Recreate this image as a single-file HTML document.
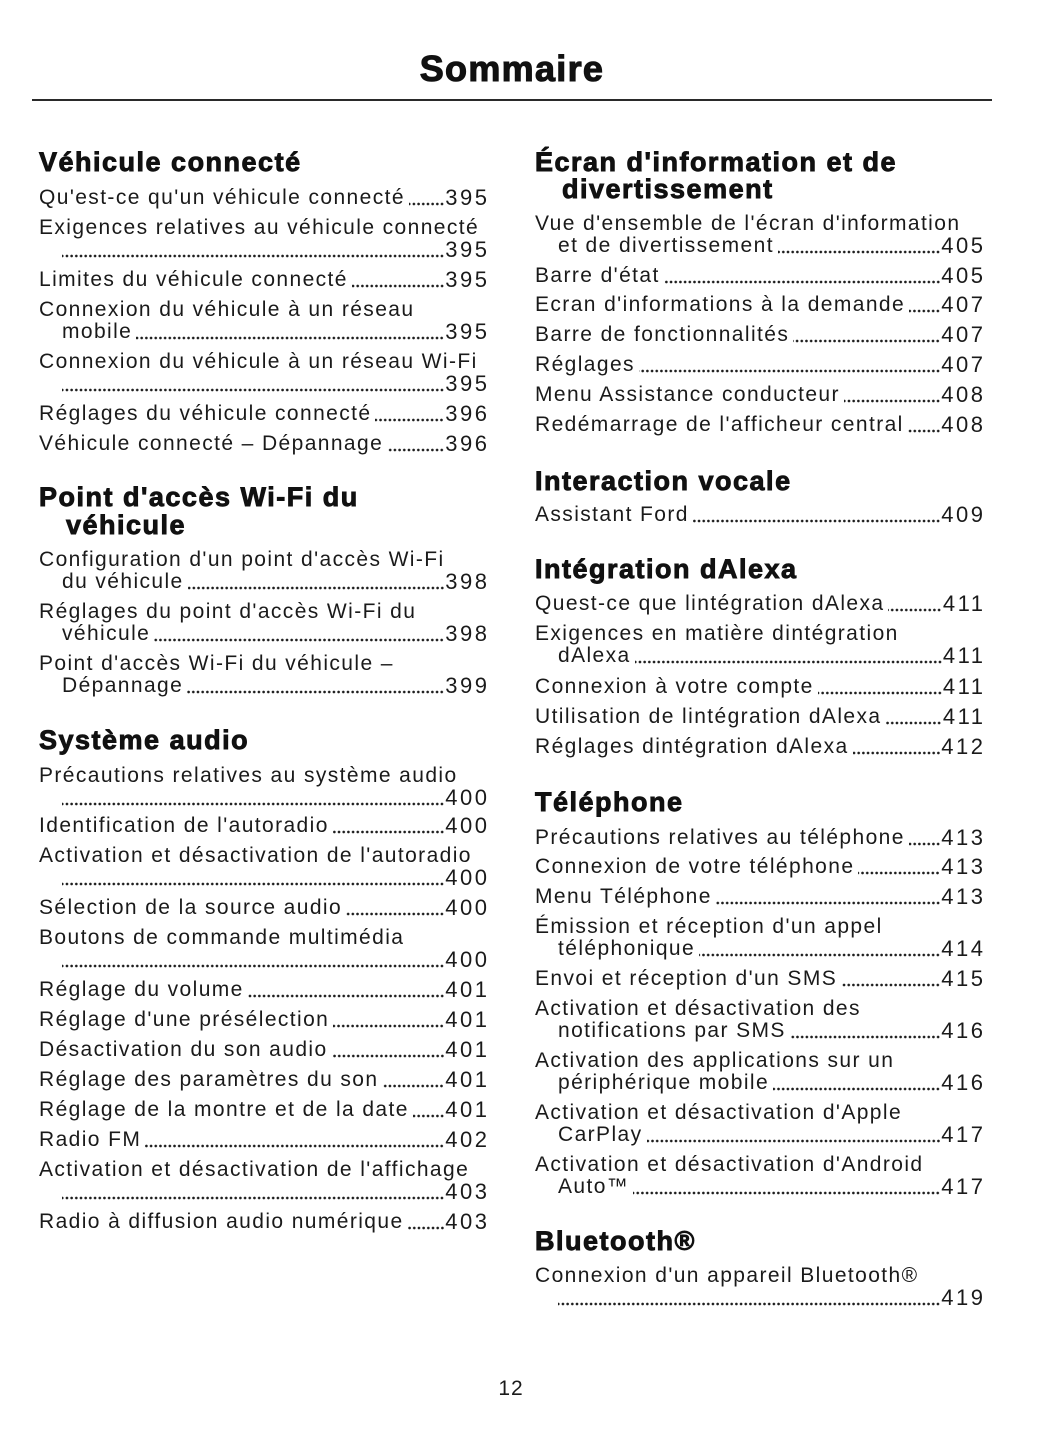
<!DOCTYPE html>
<html lang="fr">
<head>
<meta charset="utf-8">
<style>
  html, body { margin:0; padding:0; background:#fff; }
  body { width:1055px; height:1448px; position:relative; overflow:hidden;
         font-family:"Liberation Sans", "DejaVu Sans", sans-serif; color:#1a1a1a; }
  .title { position:absolute; left:0; width:1024px; top:48.5px; height:40px; line-height:40px;
           font-size:36px; font-weight:bold; text-align:center; letter-spacing:1.3px; color:#111;
           -webkit-text-stroke:1.1px #111; }
  .rule { position:absolute; left:32px; width:960px; top:99px; height:1.6px; background:#2a2a2a; }
  .h { position:absolute; height:30px; line-height:30px; font-size:27px; font-weight:bold;
       letter-spacing:1.5px; white-space:nowrap; color:#111; -webkit-text-stroke:0.9px #111; }
  .e { position:absolute; height:22px; line-height:22px; font-size:21px; letter-spacing:1.4px;
       white-space:nowrap; display:flex; }
  .e .t { flex:none; }
  .e .d { flex:1 1 auto; margin-left:4px; margin-right:1px;
          background-image:radial-gradient(circle at 2.35px 17px, #1e1e1e 1.1px, rgba(255,255,255,0) 1.55px);
          background-size:4.7px 22px; background-repeat:repeat-x; background-position:right top; }
  .e .d0 { margin-left:0; }
  .e .n { flex:none; font-size:22px; letter-spacing:2.5px; margin-right:-2.5px; }
  .L { left:39px; width:448px; }
  .Li { left:62px; width:425px; }
  .R { left:535px; width:448px; }
  .Ri { left:558px; width:425px; }
  .hL { left:39px; } .hLi { left:66px; }
  .hR { left:535px; } .hRi { left:562px; }
  .pg { position:absolute; left:461px; width:100px; top:1377.7px; height:22px; line-height:22px;
        font-size:21px; text-align:center; letter-spacing:1px; }
</style>
</head>
<body>
<div class="title">Sommaire</div>
<div class="rule"></div>

<!-- LEFT COLUMN -->
<div class="h hL" style="top:146.6px">Véhicule connecté</div>
<div class="e L" style="top:187.2px"><span class="t">Qu'est-ce qu'un véhicule connecté</span><span class="d"></span><span class="n">395</span></div>
<div class="e L" style="top:217.2px"><span class="t">Exigences relatives au véhicule connecté</span></div>
<div class="e Li" style="top:239.2px"><span class="d d0"></span><span class="n">395</span></div>
<div class="e L" style="top:268.7px"><span class="t">Limites du véhicule connecté</span><span class="d"></span><span class="n">395</span></div>
<div class="e L" style="top:298.7px"><span class="t">Connexion du véhicule à un réseau</span></div>
<div class="e Li" style="top:320.7px"><span class="t">mobile</span><span class="d"></span><span class="n">395</span></div>
<div class="e L" style="top:350.7px"><span class="t">Connexion du véhicule à un réseau Wi-Fi</span></div>
<div class="e Li" style="top:372.7px"><span class="d d0"></span><span class="n">395</span></div>
<div class="e L" style="top:402.7px"><span class="t">Réglages du véhicule connecté</span><span class="d"></span><span class="n">396</span></div>
<div class="e L" style="top:432.7px"><span class="t">Véhicule connecté – Dépannage</span><span class="d"></span><span class="n">396</span></div>

<div class="h hL" style="top:481.6px">Point d'accès Wi-Fi du</div>
<div class="h hLi" style="top:509.6px">véhicule</div>
<div class="e L" style="top:548.7px"><span class="t">Configuration d'un point d'accès Wi-Fi</span></div>
<div class="e Li" style="top:570.7px"><span class="t">du véhicule</span><span class="d"></span><span class="n">398</span></div>
<div class="e L" style="top:600.7px"><span class="t">Réglages du point d'accès Wi-Fi du</span></div>
<div class="e Li" style="top:622.7px"><span class="t">véhicule</span><span class="d"></span><span class="n">398</span></div>
<div class="e L" style="top:652.7px"><span class="t">Point d'accès Wi-Fi du véhicule –</span></div>
<div class="e Li" style="top:674.7px"><span class="t">Dépannage</span><span class="d"></span><span class="n">399</span></div>

<div class="h hL" style="top:724.9px">Système audio</div>
<div class="e L" style="top:765.2px"><span class="t">Précautions relatives au système audio</span></div>
<div class="e Li" style="top:787.2px"><span class="d d0"></span><span class="n">400</span></div>
<div class="e L" style="top:815.2px"><span class="t">Identification de l'autoradio</span><span class="d"></span><span class="n">400</span></div>
<div class="e L" style="top:845.2px"><span class="t">Activation et désactivation de l'autoradio</span></div>
<div class="e Li" style="top:867.2px"><span class="d d0"></span><span class="n">400</span></div>
<div class="e L" style="top:897.2px"><span class="t">Sélection de la source audio</span><span class="d"></span><span class="n">400</span></div>
<div class="e L" style="top:927.2px"><span class="t">Boutons de commande multimédia</span></div>
<div class="e Li" style="top:949.2px"><span class="d d0"></span><span class="n">400</span></div>
<div class="e L" style="top:979.2px"><span class="t">Réglage du volume</span><span class="d"></span><span class="n">401</span></div>
<div class="e L" style="top:1009.2px"><span class="t">Réglage d'une présélection</span><span class="d"></span><span class="n">401</span></div>
<div class="e L" style="top:1039.2px"><span class="t">Désactivation du son audio</span><span class="d"></span><span class="n">401</span></div>
<div class="e L" style="top:1069.2px"><span class="t">Réglage des paramètres du son</span><span class="d"></span><span class="n">401</span></div>
<div class="e L" style="top:1099.2px"><span class="t">Réglage de la montre et de la date</span><span class="d"></span><span class="n">401</span></div>
<div class="e L" style="top:1129.2px"><span class="t">Radio FM</span><span class="d"></span><span class="n">402</span></div>
<div class="e L" style="top:1159.2px"><span class="t">Activation et désactivation de l'affichage</span></div>
<div class="e Li" style="top:1181.2px"><span class="d d0"></span><span class="n">403</span></div>
<div class="e L" style="top:1211.2px"><span class="t">Radio à diffusion audio numérique</span><span class="d"></span><span class="n">403</span></div>

<!-- RIGHT COLUMN -->
<div class="h hR" style="top:146.6px">Écran d'information et de</div>
<div class="h hRi" style="top:174.1px">divertissement</div>
<div class="e R" style="top:212.7px"><span class="t">Vue d'ensemble de l'écran d'information</span></div>
<div class="e Ri" style="top:234.7px"><span class="t">et de divertissement</span><span class="d"></span><span class="n">405</span></div>
<div class="e R" style="top:264.7px"><span class="t">Barre d'état</span><span class="d"></span><span class="n">405</span></div>
<div class="e R" style="top:294.2px"><span class="t">Ecran d'informations à la demande</span><span class="d"></span><span class="n">407</span></div>
<div class="e R" style="top:324.2px"><span class="t">Barre de fonctionnalités</span><span class="d"></span><span class="n">407</span></div>
<div class="e R" style="top:354.2px"><span class="t">Réglages</span><span class="d"></span><span class="n">407</span></div>
<div class="e R" style="top:384.2px"><span class="t">Menu Assistance conducteur</span><span class="d"></span><span class="n">408</span></div>
<div class="e R" style="top:413.7px"><span class="t">Redémarrage de l'afficheur central</span><span class="d"></span><span class="n">408</span></div>

<div class="h hR" style="top:465.6px">Interaction vocale</div>
<div class="e R" style="top:504.2px"><span class="t">Assistant Ford</span><span class="d"></span><span class="n">409</span></div>

<div class="h hR" style="top:554.1px">Intégration dAlexa</div>
<div class="e R" style="top:593.2px"><span class="t">Quest-ce que lintégration dAlexa</span><span class="d"></span><span class="n">411</span></div>
<div class="e R" style="top:623.2px"><span class="t">Exigences en matière dintégration</span></div>
<div class="e Ri" style="top:645.2px"><span class="t">dAlexa</span><span class="d"></span><span class="n">411</span></div>
<div class="e R" style="top:675.7px"><span class="t">Connexion à votre compte</span><span class="d"></span><span class="n">411</span></div>
<div class="e R" style="top:705.7px"><span class="t">Utilisation de lintégration dAlexa</span><span class="d"></span><span class="n">411</span></div>
<div class="e R" style="top:735.7px"><span class="t">Réglages dintégration dAlexa</span><span class="d"></span><span class="n">412</span></div>

<div class="h hR" style="top:787.1px">Téléphone</div>
<div class="e R" style="top:826.7px"><span class="t">Précautions relatives au téléphone</span><span class="d"></span><span class="n">413</span></div>
<div class="e R" style="top:856.2px"><span class="t">Connexion de votre téléphone</span><span class="d"></span><span class="n">413</span></div>
<div class="e R" style="top:886.2px"><span class="t">Menu Téléphone</span><span class="d"></span><span class="n">413</span></div>
<div class="e R" style="top:916.2px"><span class="t">Émission et réception d'un appel</span></div>
<div class="e Ri" style="top:938.2px"><span class="t">téléphonique</span><span class="d"></span><span class="n">414</span></div>
<div class="e R" style="top:968.2px"><span class="t">Envoi et réception d'un SMS</span><span class="d"></span><span class="n">415</span></div>
<div class="e R" style="top:998.2px"><span class="t">Activation et désactivation des</span></div>
<div class="e Ri" style="top:1020.2px"><span class="t">notifications par SMS</span><span class="d"></span><span class="n">416</span></div>
<div class="e R" style="top:1050.2px"><span class="t">Activation des applications sur un</span></div>
<div class="e Ri" style="top:1072.2px"><span class="t">périphérique mobile</span><span class="d"></span><span class="n">416</span></div>
<div class="e R" style="top:1102.2px"><span class="t">Activation et désactivation d'Apple</span></div>
<div class="e Ri" style="top:1124.2px"><span class="t">CarPlay</span><span class="d"></span><span class="n">417</span></div>
<div class="e R" style="top:1154.2px"><span class="t">Activation et désactivation d'Android</span></div>
<div class="e Ri" style="top:1176.2px"><span class="t">Auto™</span><span class="d"></span><span class="n">417</span></div>

<div class="h hR" style="top:1225.6px">Bluetooth®</div>
<div class="e R" style="top:1264.7px"><span class="t">Connexion d'un appareil Bluetooth®</span></div>
<div class="e Ri" style="top:1286.7px"><span class="d d0"></span><span class="n">419</span></div>

<div class="pg">12</div>
</body>
</html>
